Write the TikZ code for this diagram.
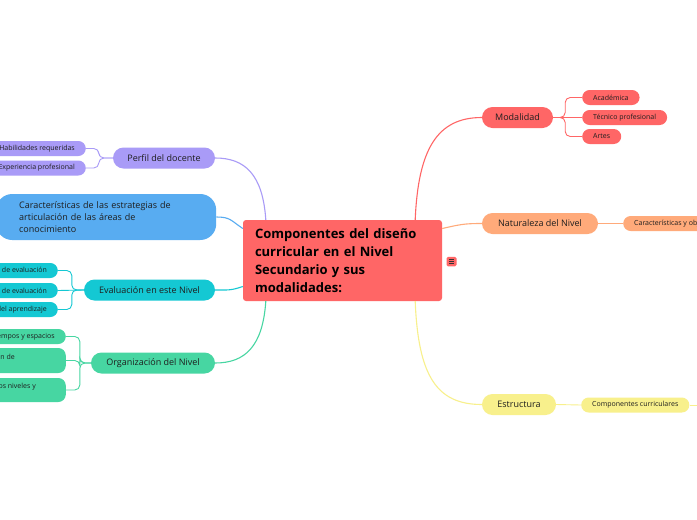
\documentclass[tikz,border=0pt]{standalone}
\usepackage{fontspec}
\setmainfont{Open Sans}
\usetikzlibrary{calc}
\definecolor{cRed}{HTML}{FF6666}
\definecolor{cOrange}{HTML}{FFAA7A}
\definecolor{cYellow}{HTML}{F8F08C}
\definecolor{cLav}{HTML}{A99BF7}
\definecolor{cBlue}{HTML}{58ACF1}
\definecolor{cCyan}{HTML}{14C8D3}
\definecolor{cGreen}{HTML}{47D6A2}
\definecolor{txt}{HTML}{1E1E1E}
\begin{document}
\begin{tikzpicture}[x=1pt,y=-1pt,
 branch/.style={rounded corners=10.5, minimum height=21, inner sep=0pt, text=txt, font=\fontsize{9}{11}\selectfont},
 leaf/.style={rounded corners=7.5, minimum height=15, inner ysep=0pt, inner xsep=11pt, text=txt, font=\fontsize{7}{9}\selectfont},
 leaftext/.style={inner sep=0pt, text=txt, font=\fontsize{7}{9}\selectfont},
 link/.style={line width=1.1pt},
 sublink/.style={line width=0.9pt, rounded corners=5}]
\useasboundingbox (0,0) rectangle (697,520);
\fill[white] (0,0) rectangle (697,520);
\clip (0,0) rectangle (697,520);

% central
\node[fill=cRed, rounded corners=3, minimum width=199, minimum height=81, text width=175, inner xsep=12pt, align=left,
  font=\bfseries\fontsize{13}{18}\selectfont, text=black] (c) at (342.5,260.5)
  {Componentes del diseño\\curricular en el Nivel\\Secundario y sus\\modalidades:};
\node[fill=cRed, rounded corners=1.5, minimum width=10, minimum height=9.5, inner sep=0pt] (ic) at (451.5,261.5) {};
\draw[black!80, line width=0.6pt] ($(ic.center)+(-2.5,-2)$) -- ($(ic.center)+(2.5,-2)$)
  ($(ic.center)+(-2.5,0)$) -- ($(ic.center)+(2.5,0)$)
  ($(ic.center)+(-2.5,2)$) -- ($(ic.center)+(2.5,2)$);

% right side
\node[branch, fill=cRed, minimum width=71] (mod) at (517.5,117.5) {Modalidad};
\node[leaf, fill=cRed, anchor=west] (mod1) at (582,97.5) {Académica};
\node[leaf, fill=cRed, anchor=west] (mod2) at (582,117.5) {Técnico profesional};
\node[leaf, fill=cRed, anchor=west] (mod3) at (582,136.5) {Artes};

\node[branch, fill=cOrange, minimum width=116] (nat) at (540,223.5) {Naturaleza del Nivel};
\node[leaf, fill=cOrange, anchor=west] (nat1) at (623,223.5) {Características y objetivos};

\node[branch, fill=cYellow, minimum width=74] (est) at (519,404.5) {Estructura};
\node[leaf, fill=cYellow, anchor=west] (est1) at (581,405) {Componentes curriculares};
\coordinate (estEnd) at (715,405);

% left side
\node[branch, fill=cLav, minimum width=102] (perf) at (164,158) {Perfil del docente};
\node[leaf, fill=cLav, anchor=east] (perf1) at (86,148.5) {Habilidades requeridas};
\node[leaf, fill=cLav, anchor=east] (perf2) at (86,168) {Experiencia profesional};

\node[fill=cBlue, rounded corners=16, anchor=west, minimum height=46, text width=174, inner xsep=23pt, align=left,
  text=txt, font=\fontsize{9}{12}\selectfont] (car) at (-4,217)
  {Características de las estrategias de\\articulación de las áreas de\\conocimiento};

\node[branch, fill=cCyan, minimum width=131] (eva) at (149.5,290) {Evaluación en este Nivel};
\node[leaf, fill=cCyan, anchor=east] (eva1) at (58,270.5) {Tipos de evaluación};
\node[leaf, fill=cCyan, anchor=east] (eva2) at (58,290.5) {Instrumentos de evaluación};
\node[leaf, fill=cCyan, anchor=east] (eva3) at (58,309.5) {Evaluación del aprendizaje};

\node[branch, fill=cGreen, minimum width=124] (org) at (153,363) {Organización del Nivel};
\node[leaf, fill=cGreen, anchor=east] (org1) at (66,336.5) {Organización de tiempos y espacios};
\node[leaf, fill=cGreen, anchor=east, minimum width=110, minimum height=25] (org2) at (66,360.5) {};
\node[leaf, fill=cGreen, anchor=east, minimum width=110, minimum height=24] (org3) at (66,390) {};
\node[leaftext, anchor=base east] (org2t) at (15,359.5) {Organización de};
\node[leaftext, anchor=base east] (org3t) at (36,388.5) {Articulación entre los niveles y};

% main connectors
\draw[link, cRed] ($(c.north east)+(-27,0)$) .. controls +(3,-70) and +(-45,0) .. (mod.west);
\draw[link, cOrange] ($(c.east)+(0,-32)$) .. controls +(18,-4) and +(-18,0) .. (nat.west);
\draw[link, cYellow] ($(c.south east)+(-27,0)$) .. controls +(3,75) and +(-45,0) .. (est.west);
\draw[link, cLav] ($(c.north west)+(23,0)$) .. controls +(-3,-45) and +(30,0) .. (perf.east);
\draw[link, cBlue] ($(c.west)+(0,-32)$) .. controls +(-12,-8) and +(14,0) .. (car.east);
\draw[link, cCyan] ($(c.west)+(0,26)$) .. controls +(-12,4) and +(14,0) .. (eva.east);
\draw[link, cGreen] ($(c.south west)+(23,0)$) .. controls +(-3,45) and +(30,0) .. (org.east);

% sub connectors
\draw[sublink, cRed] (mod.east) -- ++(12,0) |- (mod1.west);
\draw[sublink, cRed] (mod.east) -- (mod2.west);
\draw[sublink, cRed] (mod.east) -- ++(12,0) |- (mod3.west);
\draw[sublink, cOrange] (nat.east) -- (nat1.west);
\draw[sublink, cYellow] (est.east) -- (est1.west);
\draw[sublink, cYellow] (est1.east) -- (estEnd);
\draw[sublink, cLav] (perf.west) -- ++(-14,0) |- (perf1.east);
\draw[sublink, cLav] (perf.west) -- ++(-14,0) |- (perf2.east);
\draw[sublink, cCyan] (eva.west) -- ++(-12,0) |- (eva1.east);
\draw[sublink, cCyan] (eva.west) -- (eva2.east);
\draw[sublink, cCyan] (eva.west) -- ++(-12,0) |- (eva3.east);
\draw[sublink, cGreen] (org.west) -- ++(-11,0) |- (org1.east);
\draw[sublink, cGreen] (org.west) -- ++(-11,0) |- (org2.east);
\draw[sublink, cGreen] (org.west) -- ++(-11,0) |- (org3.east);
\end{tikzpicture}
\end{document}
